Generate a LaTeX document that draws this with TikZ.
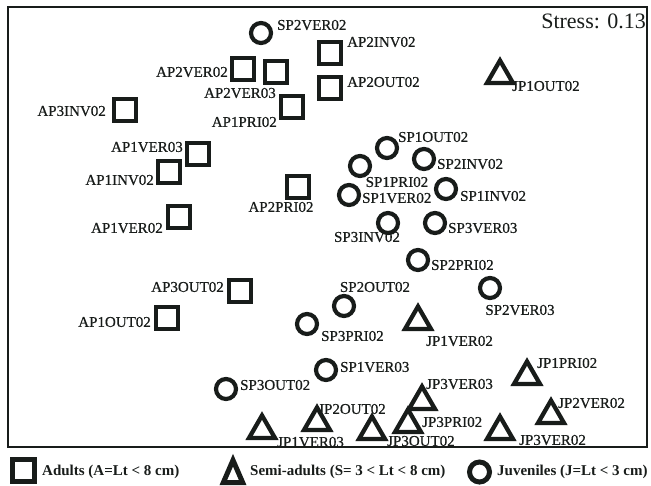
\documentclass[tikz,border=0pt]{standalone}
\usepackage{fontspec}
\setmainfont{Liberation Serif}
\newfontfamily\labfont{Liberation Serif}[FakeBold=0.6]
\usetikzlibrary{shapes.geometric}
\definecolor{mk}{RGB}{24,28,26}
\begin{document}
\begin{tikzpicture}[x=1pt,y=-1pt,
 sq/.style={draw=mk,line width=4.2pt,rectangle,minimum size=22pt,inner sep=0pt},
 ci/.style={draw=mk,line width=4.2pt,circle,minimum size=20pt,inner sep=0pt},
 tr/.style={draw=mk,line width=4.3pt,regular polygon,regular polygon sides=3,minimum size=30pt,inner sep=0pt},
 lab/.style={font=\labfont\fontsize{15}{15}\selectfont,inner sep=0pt,text=mk},
 leg/.style={font=\bfseries\fontsize{15}{15}\selectfont,inner sep=0pt,text=mk,anchor=base west}]
\useasboundingbox (0,0) rectangle (651,485);
\fill[white] (0,0) rectangle (651,485);
\draw[mk,line width=2.5pt] (8,7) rectangle (647,447);
\node[font=\fontsize{22}{22}\selectfont,anchor=base east,inner sep=0pt,text=mk] (stress) at (646,28) {Stress: 0.13};
% adults
\node[sq] (a1) at (243,69) {};  \node[lab,anchor=east] (la1) at (228,72) {AP2VER02};
\node[sq] (a2) at (276,72) {};  \node[lab,anchor=east] (la2) at (276,93) {AP2VER03};
\node[sq] (a3) at (330,53) {};  \node[lab,anchor=west] (la3) at (347,42) {AP2INV02};
\node[sq] (a4) at (330,88) {};  \node[lab,anchor=west] (la4) at (347,82) {AP2OUT02};
\node[sq] (a5) at (125,110) {}; \node[lab,anchor=east] (la5) at (106,111) {AP3INV02};
\node[sq] (a6) at (292,107) {}; \node[lab,anchor=east] (la6) at (277,122) {AP1PRI02};
\node[sq] (a7) at (198,154) {}; \node[lab,anchor=east] (la7) at (183,147) {AP1VER03};
\node[sq] (a8) at (169,172) {}; \node[lab,anchor=east] (la8) at (154,180) {AP1INV02};
\node[sq] (a9) at (298,187) {}; \node[lab] (la9) at (281,207) {AP2PRI02};
\node[sq] (a10) at (179,217) {}; \node[lab,anchor=east] (la10) at (163,228) {AP1VER02};
\node[sq] (a11) at (240,291) {}; \node[lab,anchor=east] (la11) at (224,287) {AP3OUT02};
\node[sq] (a12) at (167,318) {}; \node[lab,anchor=east] (la12) at (151,322) {AP1OUT02};
% juveniles
\node[ci] (s1) at (261,33) {};  \node[lab,anchor=west] (ls1) at (277,25) {SP2VER02};
\node[ci] (s2) at (387,148) {}; \node[lab,anchor=west] (ls2) at (398,137) {SP1OUT02};
\node[ci] (s3) at (360,166) {}; \node[lab] (ls3) at (397,182) {SP1PRI02};
\node[ci] (s4) at (424,159) {}; \node[lab,anchor=west] (ls4) at (437,164) {SP2INV02};
\node[ci] (s5) at (349,195) {}; \node[lab,anchor=west] (ls5) at (362,198) {SP1VER02};
\node[ci] (s6) at (446,189) {}; \node[lab,anchor=west] (ls6) at (460,196) {SP1INV02};
\node[ci] (s7) at (388,223) {}; \node[lab] (ls7) at (367,237) {SP3INV02};
\node[ci] (s8) at (435,223) {}; \node[lab,anchor=west] (ls8) at (448,228) {SP3VER03};
\node[ci] (s9) at (418,260) {}; \node[lab,anchor=west] (ls9) at (431,265) {SP2PRI02};
\node[ci] (s10) at (490,288) {}; \node[lab] (ls10) at (520,310) {SP2VER03};
\node[ci] (s11) at (344,306) {}; \node[lab] (ls11) at (375,287) {SP2OUT02};
\node[ci] (s12) at (307,324) {}; \node[lab,anchor=west] (ls12) at (321,336) {SP3PRI02};
\node[ci] (s13) at (326,370) {}; \node[lab,anchor=west] (ls13) at (340,367) {SP1VER03};
\node[ci] (s14) at (226,389) {}; \node[lab,anchor=west] (ls14) at (240,385) {SP3OUT02};
% semi-adults
\node[tr] (j1) at (500,75.5) {};  \node[lab,anchor=west] (lj1) at (512,86) {JP1OUT02};
\node[tr] (j2) at (418,321.5) {}; \node[lab,anchor=west] (lj2) at (426,341) {JP1VER02};
\node[tr] (j3) at (527,376.5) {}; \node[lab,anchor=west] (lj3) at (537,363) {JP1PRI02};
\node[tr] (j4) at (422,401.5) {}; \node[lab,anchor=west] (lj4) at (426,384) {JP3VER03};
\node[tr] (j5) at (551,415.5) {}; \node[lab,anchor=west] (lj5) at (558,403) {JP2VER02};
\node[tr] (j6) at (408,424.5) {}; \node[lab,anchor=west] (lj6) at (422,422) {JP3PRI02};
\node[tr] (j7) at (500,431.5) {}; \node[lab,anchor=west] (lj7) at (519,440) {JP3VER02};
\node[tr] (j8) at (372,431.5) {}; \node[lab,anchor=west] (lj8) at (387,441) {JP3OUT02};
\node[tr] (j9) at (317,422.5) {}; \node[lab] (lj9) at (352,409) {JP2OUT02};
\node[tr] (j10) at (262,430.5) {}; \node[lab,anchor=west] (lj10) at (277,442) {JP1VER03};
% legend
\node[draw=mk,line width=5pt,rectangle,minimum size=22pt,inner sep=0pt] (ga) at (23.5,470) {};
\node[leg] (gla) at (42,475) {Adults (A=Lt < 8 cm)};
\node[draw=mk,line width=5pt,regular polygon,regular polygon sides=3,minimum size=30pt,inner sep=0pt,xscale=0.75,transform shape] (gs) at (233,475.2) {};
\node[leg] (gls) at (250,475) {Semi-adults (S= 3 < Lt < 8 cm)};
\node[draw=mk,line width=5pt,circle,minimum size=20pt,inner sep=0pt] (gj) at (479.5,472) {};
\node[leg] (glj) at (497,475) {Juveniles (J=Lt < 3 cm)};
\end{tikzpicture}
\end{document}
